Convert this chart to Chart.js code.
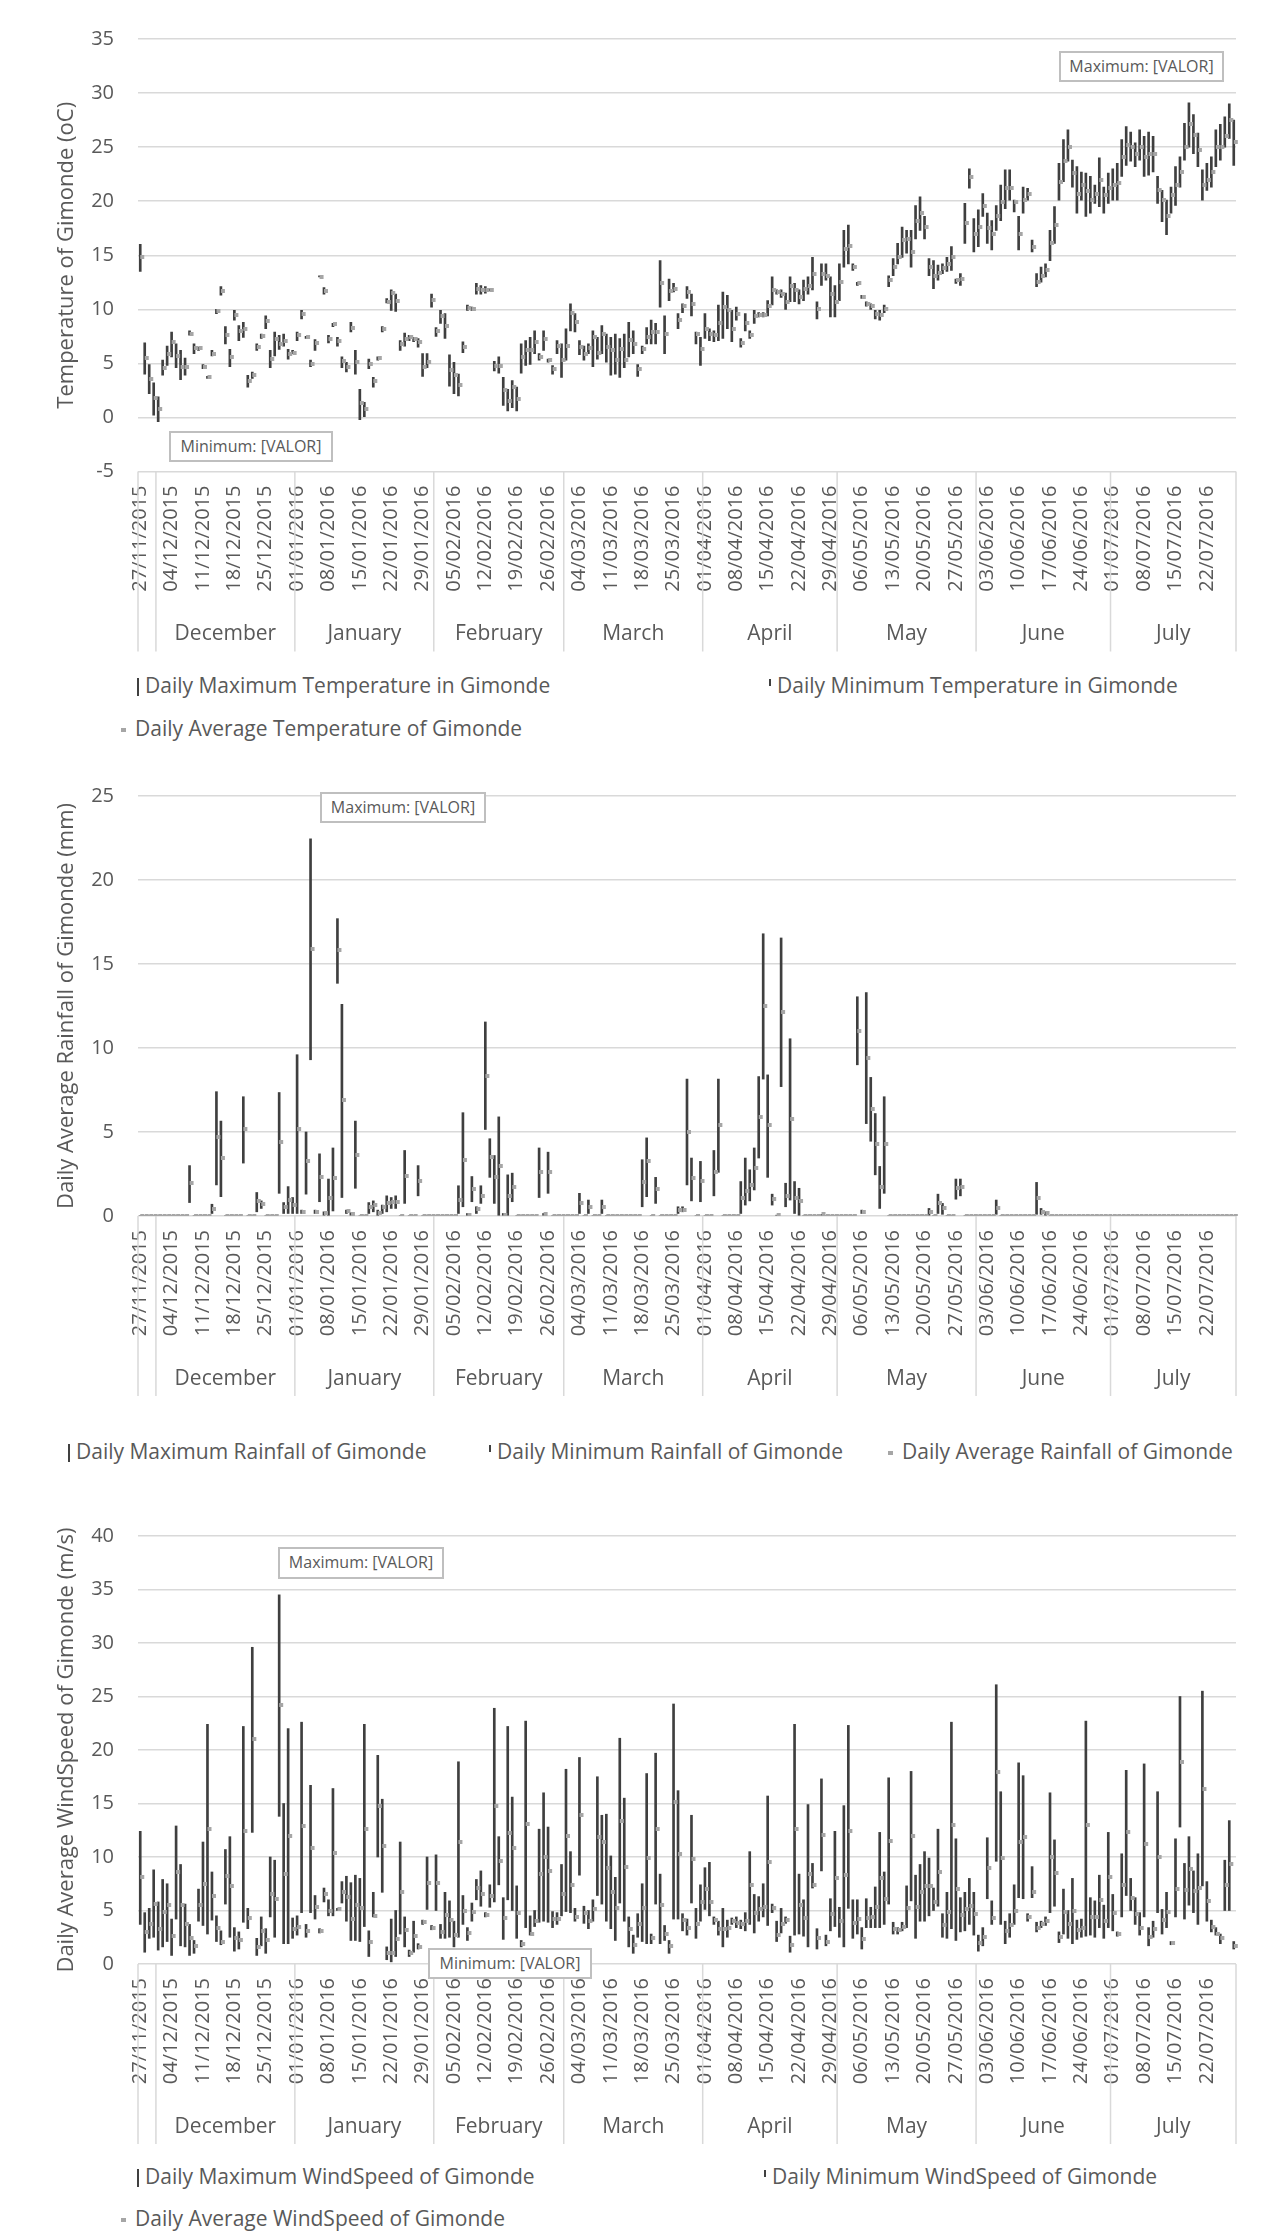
<!DOCTYPE html>
<html><head><meta charset="utf-8">
<script src="https://cdn.jsdelivr.net/npm/chart.js@4.4.1/dist/chart.umd.min.js"></script>
<style>
html,body{margin:0;padding:0;background:#fff;}
#page{position:relative;width:1282px;height:2233px;overflow:hidden;font-family:'Open Sans',sans-serif;color:#595959;}
canvas{position:absolute;left:0;}
.lg{position:absolute;font-size:21px;line-height:28px;white-space:nowrap;color:#595959;}
.mk{display:inline-block;vertical-align:middle;margin-right:6px;}
.mx{width:2px;height:18px;background:#404040;}
.mn{width:2px;height:7px;background:#404040;position:relative;top:-5px;}
.av{width:5px;height:4px;background:#a6a6a6;margin-right:9px;}
.box{position:absolute;border:2px solid #bfbfbf;background:#fff;font-size:16px;line-height:27px;text-align:center;color:#595959;box-sizing:border-box;white-space:nowrap;}
</style></head>
<body><div id="page">
<canvas id="c1" width="1282" height="660" style="top:0px"></canvas>
<canvas id="c2" width="1282" height="660" style="top:760px"></canvas>
<canvas id="c3" width="1282" height="650" style="top:1500px"></canvas>

<div class="lg" style="left:137px;top:671px"><span class="mk mx"></span>Daily Maximum Temperature in Gimonde</div>
<div class="lg" style="left:769px;top:671px"><span class="mk mn"></span>Daily Minimum Temperature in Gimonde</div>
<div class="lg" style="left:121px;top:714px"><span class="mk av"></span>Daily Average Temperature of Gimonde</div>

<div class="lg" style="left:68px;top:1437px"><span class="mk mx"></span>Daily Maximum Rainfall of Gimonde</div>
<div class="lg" style="left:489px;top:1437px"><span class="mk mn"></span>Daily Minimum Rainfall of Gimonde</div>
<div class="lg" style="left:888px;top:1437px"><span class="mk av"></span>Daily Average Rainfall of Gimonde</div>

<div class="lg" style="left:137px;top:2162px"><span class="mk mx"></span>Daily Maximum WindSpeed of Gimonde</div>
<div class="lg" style="left:764px;top:2162px"><span class="mk mn"></span>Daily Minimum WindSpeed of Gimonde</div>
<div class="lg" style="left:121px;top:2204px"><span class="mk av"></span>Daily Average WindSpeed of Gimonde</div>

<div class="box" style="left:169px;top:431px;width:164px;height:31px">Minimum: [VALOR]</div>
<div class="box" style="left:1059px;top:51px;width:165px;height:31px">Maximum: [VALOR]</div>
<div class="box" style="left:320px;top:792px;width:166px;height:31px">Maximum: [VALOR]</div>
<div class="box" style="left:278px;top:1547px;width:166px;height:32px">Maximum: [VALOR]</div>
<div class="box" style="left:428px;top:1948px;width:164px;height:31px">Minimum: [VALOR]</div>
</div>
<script>
const dates = [
'27/11/2015','28/11/2015','29/11/2015','30/11/2015',
'01/12/2015','02/12/2015','03/12/2015','04/12/2015','05/12/2015','06/12/2015','07/12/2015','08/12/2015','09/12/2015','10/12/2015','11/12/2015','12/12/2015','13/12/2015','14/12/2015','15/12/2015','16/12/2015','17/12/2015','18/12/2015','19/12/2015','20/12/2015','21/12/2015','22/12/2015','23/12/2015','24/12/2015','25/12/2015','26/12/2015','27/12/2015','28/12/2015','29/12/2015','30/12/2015','31/12/2015',
'01/01/2016','02/01/2016','03/01/2016','04/01/2016','05/01/2016','06/01/2016','07/01/2016','08/01/2016','09/01/2016','10/01/2016','11/01/2016','12/01/2016','13/01/2016','14/01/2016','15/01/2016','16/01/2016','17/01/2016','18/01/2016','19/01/2016','20/01/2016','21/01/2016','22/01/2016','23/01/2016','24/01/2016','25/01/2016','26/01/2016','27/01/2016','28/01/2016','29/01/2016','30/01/2016','31/01/2016',
'01/02/2016','02/02/2016','03/02/2016','04/02/2016','05/02/2016','06/02/2016','07/02/2016','08/02/2016','09/02/2016','10/02/2016','11/02/2016','12/02/2016','13/02/2016','14/02/2016','15/02/2016','16/02/2016','17/02/2016','18/02/2016','19/02/2016','20/02/2016','21/02/2016','22/02/2016','23/02/2016','24/02/2016','25/02/2016','26/02/2016','27/02/2016','28/02/2016','29/02/2016',
'01/03/2016','02/03/2016','03/03/2016','04/03/2016','05/03/2016','06/03/2016','07/03/2016','08/03/2016','09/03/2016','10/03/2016','11/03/2016','12/03/2016','13/03/2016','14/03/2016','15/03/2016','16/03/2016','17/03/2016','18/03/2016','19/03/2016','20/03/2016','21/03/2016','22/03/2016','23/03/2016','24/03/2016','25/03/2016','26/03/2016','27/03/2016','28/03/2016','29/03/2016','30/03/2016','31/03/2016',
'01/04/2016','02/04/2016','03/04/2016','04/04/2016','05/04/2016','06/04/2016','07/04/2016','08/04/2016','09/04/2016','10/04/2016','11/04/2016','12/04/2016','13/04/2016','14/04/2016','15/04/2016','16/04/2016','17/04/2016','18/04/2016','19/04/2016','20/04/2016','21/04/2016','22/04/2016','23/04/2016','24/04/2016','25/04/2016','26/04/2016','27/04/2016','28/04/2016','29/04/2016','30/04/2016',
'01/05/2016','02/05/2016','03/05/2016','04/05/2016','05/05/2016','06/05/2016','07/05/2016','08/05/2016','09/05/2016','10/05/2016','11/05/2016','12/05/2016','13/05/2016','14/05/2016','15/05/2016','16/05/2016','17/05/2016','18/05/2016','19/05/2016','20/05/2016','21/05/2016','22/05/2016','23/05/2016','24/05/2016','25/05/2016','26/05/2016','27/05/2016','28/05/2016','29/05/2016','30/05/2016','31/05/2016',
'01/06/2016','02/06/2016','03/06/2016','04/06/2016','05/06/2016','06/06/2016','07/06/2016','08/06/2016','09/06/2016','10/06/2016','11/06/2016','12/06/2016','13/06/2016','14/06/2016','15/06/2016','16/06/2016','17/06/2016','18/06/2016','19/06/2016','20/06/2016','21/06/2016','22/06/2016','23/06/2016','24/06/2016','25/06/2016','26/06/2016','27/06/2016','28/06/2016','29/06/2016','30/06/2016',
'01/07/2016','02/07/2016','03/07/2016','04/07/2016','05/07/2016','06/07/2016','07/07/2016','08/07/2016','09/07/2016','10/07/2016','11/07/2016','12/07/2016','13/07/2016','14/07/2016','15/07/2016','16/07/2016','17/07/2016','18/07/2016','19/07/2016','20/07/2016','21/07/2016','22/07/2016','23/07/2016','24/07/2016','25/07/2016','26/07/2016','27/07/2016','28/07/2016'
];
const monthNames = ['December','January','February','March','April','May','June','July'];
const monthStarts = [4,35,66,95,126,156,187,217];

const tempMax = [
16.0,6.9,4.9,3.2,1.9,5.3,6.6,7.9,6.8,6.2, 5.5,8.0,6.8,6.5,4.9,3.8,6.2,10.0,12.1,8.4, 6.3,9.9,8.5,8.8,3.9,4.2,6.8,7.7,9.4,6.2,
7.9,7.6,7.7,6.3,6.2,7.9,9.9,7.5,5.3,7.2, 13.1,12.0,7.6,8.7,7.4,5.6,5.1,8.8,6.2,2.6, 1.4,5.4,3.7,5.6,8.4,11.0,11.8,11.4,7.1,7.8,
7.6,7.4,7.3,5.9,5.9,11.4,8.3,9.9,9.6,5.8, 5.1,4.0,7.0,10.4,10.2,12.4,12.2,12.1,11.9,5.2, 5.6,3.7,2.6,3.4,2.8,
6.8,7.1,7.4,8.0,5.9,8.0,5.4,4.8,7.1,6.8, 8.2,10.5,9.6,7.1,6.6,6.8,8.0,7.4,8.5,7.7, 7.4,7.7,7.3,7.7,8.8,8.0,
4.9,6.6,8.3,9.0,8.7,14.5,9.4,12.8,12.4,9.6, 10.5,12.1,11.4,7.9,7.4,9.6,8.2,8.0,10.4,11.6, 11.3,9.9,10.2,7.3,9.6,8.0,9.9,9.7,9.7,10.8,
13.0,11.8,11.8,11.5,13.0,12.4,11.8,12.7,13.0,14.8, 10.7,14.2,14.2,13.0,12.2,14.2,17.3,17.8,14.2,12.5, 11.3,10.7,10.5,9.9,9.9,10.4,13.1,14.7,16.1,17.6,
17.3,17.3,19.6,20.4,18.6,14.7,14.5,14.1,14.2,14.8, 15.8,12.8,13.3,19.8,23.0,18.4,19.2,20.7,18.9,18.2, 19.6,21.5,22.9,22.9,20.1,18.6,21.3,21.2,16.4,13.3,
13.9,14.2,17.3,19.5,23.5,25.7,26.6,23.8,23.2,22.7, 22.6,22.3,21.5,24.0,21.3,22.6,23.0,23.5,25.7,26.9, 26.4,25.4,26.6,26.0,26.4,26.0,22.3,21.0,20.1,21.3,
23.2,24.1,27.2,29.1,28.0,26.3,22.9,23.5,24.1,26.6, 27.1,27.8,29.0,27.5
];
const tempMin = [
13.5,4.0,2.2,0.2,-0.4,3.9,4.8,5.6,4.6,3.5, 3.9,7.6,5.9,6.2,4.5,3.6,5.7,9.6,11.3,6.8, 4.7,9.0,7.1,7.4,2.8,3.6,6.2,7.3,8.2,4.6,
5.7,6.3,6.6,5.4,5.9,7.1,9.1,7.3,4.7,6.2, 13.0,11.4,6.9,8.4,6.6,4.6,4.2,7.9,4.0,-0.2, 0.0,4.5,2.8,5.3,7.9,10.6,9.9,9.8,6.2,6.6,
7.1,7.0,6.5,3.8,4.6,10.2,7.5,8.7,7.3,2.9, 2.2,2.0,6.0,9.9,9.9,11.4,11.4,11.5,11.7,4.3, 4.1,1.1,0.6,0.9,0.6,
4.1,4.8,4.9,5.9,5.3,6.2,5.1,4.0,5.9,3.7, 5.3,8.0,7.9,5.8,5.3,5.9,4.7,5.4,5.9,5.1, 3.9,4.0,3.7,4.6,5.6,5.9,
3.8,5.9,6.8,6.8,6.8,10.2,5.9,10.8,11.6,8.2, 9.7,11.0,9.4,6.8,4.8,7.3,7.1,7.0,7.1,7.3, 8.2,7.0,9.0,6.5,8.0,7.3,8.7,9.3,9.3,9.4,
10.4,11.4,11.1,10.0,10.7,10.7,10.5,10.8,11.4,11.8, 9.1,12.2,12.7,9.3,9.3,10.8,13.9,14.2,13.6,12.2, 11.0,10.3,10.0,9.1,9.0,9.7,12.1,13.1,14.2,14.8,
15.2,13.9,16.5,17.3,16.5,13.1,11.9,12.7,13.3,13.5, 13.6,12.4,12.2,16.1,21.2,15.3,15.8,18.6,16.1,15.5, 17.3,18.2,19.3,20.1,19.0,15.5,18.9,20.1,15.3,12.1,
12.5,13.0,14.5,16.1,20.1,21.8,23.7,21.3,18.9,20.1, 18.6,18.9,19.8,19.5,18.9,19.8,20.1,20.1,22.3,23.3, 23.7,23.2,23.8,22.3,22.4,22.7,19.8,18.1,16.9,18.9,
19.6,21.3,23.8,25.0,24.4,23.2,20.1,21.0,21.3,23.2, 23.8,25.0,25.8,23.3
];
const tempAvg = [
14.8,5.5,3.6,1.8,0.8,4.6,5.9,7.0,5.7,4.7, 4.7,7.7,6.4,6.4,4.7,3.7,5.9,9.8,11.7,7.6, 5.6,9.5,8.0,8.2,3.4,3.9,6.5,7.5,8.9,5.4,
7.3,6.8,7.1,5.9,6.0,7.6,9.6,7.4,4.9,6.9, 13.0,11.7,7.3,8.6,7.1,5.2,4.7,8.3,5.1,1.3, 0.8,4.9,3.4,5.5,8.2,10.7,11.5,10.8,6.8,7.3,
7.4,7.3,7.0,4.7,5.1,10.9,8.0,9.4,8.5,4.4, 3.9,3.0,6.5,10.1,10.0,11.9,11.8,11.8,11.8,4.8, 4.8,2.5,1.5,2.8,1.7,
5.6,6.2,6.2,7.0,5.6,7.3,5.3,4.5,6.6,5.3, 6.6,9.7,8.8,6.5,5.9,6.4,7.4,6.0,7.7,6.5, 6.2,5.3,6.3,5.3,7.2,6.8,
4.5,6.3,7.4,7.9,7.9,12.4,7.7,11.7,11.9,9.0, 10.3,11.6,10.5,7.7,6.3,8.2,7.7,7.6,8.7,10.2, 9.9,8.2,9.6,6.9,8.7,7.6,9.4,9.5,9.5,10.3,
11.8,11.6,11.4,10.7,12.2,11.8,11.1,11.9,12.2,13.3, 10.0,13.3,13.1,11.4,10.7,12.5,15.6,15.9,13.9,12.4, 11.1,10.5,10.3,9.6,9.5,10.0,12.7,13.9,14.8,16.4,
16.5,15.3,18.2,18.9,17.6,13.9,13.1,13.4,13.8,14.2, 14.8,12.7,12.8,18.0,22.2,17.0,17.6,19.6,17.5,17.0, 18.6,19.9,21.2,21.2,19.9,17.0,20.1,20.7,15.8,12.5,
13.1,13.6,16.1,17.8,21.8,23.7,25.0,22.6,20.7,21.5, 20.9,20.1,20.7,22.0,20.6,21.2,21.5,21.7,24.1,25.2, 25.0,24.4,25.0,24.1,24.4,24.4,21.0,20.1,18.6,20.6,
21.5,22.7,25.0,27.1,26.1,24.7,21.5,22.0,22.7,25.0, 25.0,26.0,27.5,25.5
];

const rainMax = [
0,0,0,0,0,0,0,0,0,0, 0,3.0,0,0,0,0,0.7,7.4,5.65,0, 0,0,0,7.1,0,0,1.4,0.9,0,0,
0,7.35,0.8,1.75,1.1,9.6,0.35,5.0,22.45,0.35, 3.7,0.25,2.2,4.05,17.7,12.6,0.35,0.2,5.65,0, 0,0.8,0.9,0.35,0.65,1.2,1.1,1.2,0,3.9,
0,0,3.0,0,0,0,0,0,0,0, 0,1.8,6.15,0.15,2.35,0.55,1.8,11.55,4.6,3.6, 5.9,0.15,2.45,2.55,0,0,0,0,0,4.05,
0.15,3.8,0,0,0,0,0,0,1.35,0, 0.95,0,0,0.95,0,0,0,0,0,0, 0,0,3.35,4.65,0,2.3,0,0,0,0,
0.55,0.55,8.15,3.45,0,3.25,0,0,3.9,8.15, 0,0,0,0,2.05,3.45,2.75,4.05,8.3,16.8, 8.4,1.3,0.05,16.55,1.95,10.55,2.05,1.65,0,0,
0,0,0.1,0,0,0,0,0,0,0, 13.05,0.35,13.3,8.25,6.1,2.95,7.1,0,0,0, 0,0,0,0,0,0,0.45,0,1.3,0.75,
0,0,2.2,2.2,0,0,0,0,0,0, 0,0.95,0,0,0,0,0,0,0,0, 2.0,0.45,0.25,0,0,0,0,0,0,0,
0,0,0,0,0,0,0,0,0,0, 0,0,0,0,0,0,0,0,0,0, 0,0,0,0,0,0,0,0,0,0,
0,0,0,0,0
];
const rainMin = [
0,0,0,0,0,0,0,0,0,0, 0,0.8,0,0,0,0,0.15,1.85,1.15,0, 0,0,0,3.15,0,0,0.25,0.45,0,0,
0,1.35,0.15,0.15,0.15,0.15,0.15,1.3,9.3,0.15, 0.85,0.05,0,0.3,13.85,1.1,0.15,0.05,1.65,0, 0,0.15,0.25,0,0.15,0.25,0.45,0.45,0,0.75,
0,0,1.2,0,0,0,0,0,0,0, 0,0.15,0.55,0,0.85,0.15,0.75,5.15,2.3,0.75, 0,0,0,0.85,0,0,0,0,0,1.1,
0,1.35,0,0,0,0,0,0,0.15,0, 0.15,0,0,0.15,0,0,0,0,0,0, 0,0,0.55,1.15,0,0.75,0,0,0,0,
0.15,0.25,1.85,0.9,0,0.85,0,0,1.2,2.6, 0,0,0,0,0.15,0.65,0.9,1.55,3.45,8.15, 2.3,0.65,0,7.7,0.55,0.95,0.15,0,0,0,
0,0,0,0,0,0,0,0,0,0, 9.0,0.15,5.5,4.45,2.45,0.45,1.35,0,0,0, 0,0,0,0,0,0,0.05,0,0.15,0.1,
0,0,1.0,1.2,0,0,0,0,0,0, 0,0.1,0,0,0,0,0,0,0,0, 0.1,0.1,0.05,0,0,0,0,0,0,0,
0,0,0,0,0,0,0,0,0,0, 0,0,0,0,0,0,0,0,0,0, 0,0,0,0,0,0,0,0,0,0,
0,0,0,0,0
];
const rainAvg = [
0,0,0,0,0,0,0,0,0,0, 0,1.95,0,0,0,0,0.4,4.7,3.45,0, 0,0,0,5.2,0,0,0.9,0.7,0,0,
0,4.4,0.55,0.95,0.65,5.2,0.25,3.25,15.9,0.25, 2.3,0.15,1.1,2.25,15.85,6.9,0.3,0.1,3.65,0, 0,0.55,0.65,0.2,0.55,0.75,0.85,0.85,0,2.4,
0,0,2.1,0,0,0,0,0,0,0, 0,0.95,3.35,0.05,1.6,0.4,1.2,8.35,3.5,2.3, 2.95,0.05,1.2,1.75,0,0,0,0,0,2.6,
0.1,2.6,0,0,0,0,0,0,0.75,0, 0.55,0,0,0.55,0,0,0,0,0,0, 0,0,2.0,3.25,0,1.6,0,0,0,0,
0.35,0.35,5.0,2.25,0,2.1,0,0,2.6,5.4, 0,0,0,0,1.1,1.5,1.85,2.85,5.9,12.5, 5.4,1.0,0.05,12.15,1.2,5.8,1.1,0.9,0,0,
0,0,0.1,0,0,0,0,0,0,0, 11.0,0.25,9.4,6.35,4.3,1.75,4.3,0,0,0, 0,0,0,0,0,0,0.25,0,0.75,0.5,
0,0,1.65,1.75,0,0,0,0,0,0, 0,0.5,0,0,0,0,0,0,0,0, 1.1,0.25,0.15,0,0,0,0,0,0,0,
0,0,0,0,0,0,0,0,0,0, 0,0,0,0,0,0,0,0,0,0, 0,0,0,0,0,0,0,0,0,0,
0,0,0,0,0
];

const windMax = [
12.4,4.8,5.2,8.8,5.8,7.9,7.5,4.2,12.9,9.3, 5.6,3.7,2.2,7.0,11.4,22.4,8.6,4.5,3.1,10.7, 11.9,3.4,3.0,22.2,5.2,29.6,2.4,4.4,3.3,10.0,
9.7,34.5,15.0,22.0,4.3,4.5,22.6,3.7,16.7,6.4, 3.3,7.1,6.0,16.4,5.2,7.7,8.2,7.6,8.3,8.0, 22.4,3.1,6.7,19.5,15.4,1.6,4.2,5.0,11.4,4.4,
1.3,4.0,1.9,4.1,10.0,3.6,10.2,3.7,6.7,5.9, 4.0,18.9,6.4,3.4,5.7,7.9,8.7,4.8,7.4,23.9, 11.9,6.2,22.2,15.6,7.3,2.2,22.7,4.5,5.0,12.6,
16.0,12.8,4.9,4.8,9.3,18.2,10.5,5.2,19.3,5.4, 5.0,6.0,17.5,13.9,14.0,10.1,8.1,21.1,15.5,4.4, 2.7,4.7,7.5,17.8,2.8,19.7,8.4,3.6,2.2,24.3,
16.2,4.7,4.2,13.9,5.2,7.4,9.0,9.5,4.4,4.0, 5.2,4.1,4.3,4.4,4.1,4.8,10.5,6.5,6.3,7.5, 15.7,5.6,4.0,5.2,4.4,2.6,22.4,8.4,6.0,14.9,
9.4,3.3,17.3,2.7,6.1,12.4,5.3,14.8,22.3,6.0, 6.0,3.4,6.1,5.3,7.2,12.3,8.6,17.4,3.9,3.4, 3.9,7.3,18.0,8.3,9.3,10.5,9.9,7.1,12.6,4.7,
6.7,22.6,11.7,6.2,6.7,8.0,6.7,2.7,3.4,11.8, 5.9,26.1,16.1,4.0,4.7,7.4,18.8,17.6,4.7,9.1, 3.9,4.0,4.4,16.0,11.6,3.0,7.0,5.0,8.0,4.1,
4.2,22.7,6.2,5.9,8.3,5.5,12.3,6.5,3.0,10.3, 18.1,8.0,6.2,4.8,18.7,3.4,4.0,16.1,5.1,6.7, 2.1,11.7,25.0,9.4,11.9,8.7,10.3,25.5,7.7,4.1,
3.4,2.8,9.7,13.4,2.1
];
const windMin = [
3.7,1.1,2.4,2.5,1.3,1.6,2.1,0.8,4.2,1.7, 1.6,0.8,1.0,4.0,3.6,2.8,4.1,2.1,1.8,5.6, 2.5,1.2,1.4,3.9,3.3,12.3,0.8,1.7,1.0,4.4,
2.5,13.8,1.9,1.9,2.4,2.7,4.8,2.5,4.8,4.2, 2.9,5.8,4.5,4.5,5.0,5.7,4.0,2.2,2.2,2.1, 3.5,0.7,4.4,10.0,6.7,0.4,0.2,0.7,2.8,1.6,
0.7,1.1,1.4,3.7,5.1,3.2,5.0,2.4,2.4,2.5, 1.6,2.5,3.7,2.2,4.0,6.0,5.4,4.4,5.3,5.8, 7.4,2.3,6.0,5.0,2.4,1.6,3.4,2.7,3.5,3.9,
4.0,3.9,3.4,3.7,4.5,4.9,4.8,4.0,8.3,3.8, 3.3,4.0,6.4,5.6,4.0,3.3,2.2,5.7,4.0,1.6, 1.0,2.5,2.1,1.9,1.9,5.6,1.9,2.2,1.0,4.2,
4.2,3.1,2.7,5.7,2.4,4.0,5.1,4.5,3.7,2.7, 1.6,2.5,3.7,3.4,3.3,3.1,3.7,2.9,4.0,4.4, 3.6,4.8,2.1,2.9,3.8,1.1,2.7,2.8,2.6,1.6,
7.1,1.4,8.7,1.7,3.1,3.5,2.5,1.6,5.2,2.4, 2.8,1.4,3.4,3.4,3.4,3.4,3.7,5.6,2.8,2.8, 3.1,3.4,5.9,2.4,4.0,4.0,4.5,5.0,5.4,2.5,
2.4,3.3,2.2,3.0,3.1,3.7,2.7,1.2,1.7,6.1, 3.7,9.6,3.7,1.9,2.5,3.7,6.2,6.1,4.0,6.2, 3.0,3.4,3.6,4.8,5.4,2.0,2.8,2.4,1.9,2.3,
2.5,2.6,2.7,2.5,3.4,2.4,3.4,3.1,2.6,4.4, 6.4,5.0,3.7,2.7,4.4,1.7,2.5,4.8,2.8,3.4, 1.8,4.4,12.8,4.2,5.5,4.8,3.7,7.3,4.0,3.0,
2.7,1.9,5.0,5.0,1.4
];
const windAvg = [
8.1,3.0,3.7,5.6,3.3,4.9,5.5,2.6,8.6,5.5, 3.7,2.4,1.7,5.5,7.5,12.6,6.4,3.4,2.1,8.2, 7.3,2.4,2.2,12.4,4.3,21.0,1.6,3.1,2.2,6.5,
6.1,24.2,8.4,12.0,3.3,3.5,12.9,3.1,10.8,5.3, 3.1,6.5,5.0,10.4,5.1,6.7,6.3,4.2,5.5,5.2, 12.6,2.1,4.5,14.8,11.0,1.0,1.0,2.3,6.7,3.2,
1.0,2.6,1.6,3.9,7.6,3.4,7.6,3.0,4.6,4.1, 2.7,11.4,5.0,2.9,4.9,7.1,6.5,4.6,6.4,14.8, 9.6,4.3,12.2,10.8,4.8,1.9,13.1,2.8,4.0,8.4,
10.0,8.7,4.2,4.2,6.5,12.0,7.4,4.4,13.9,4.8, 4.0,5.1,11.9,11.4,9.0,6.7,5.2,13.4,9.1,3.3, 1.8,3.7,5.2,9.9,2.4,12.6,5.5,2.8,1.7,15.1,
10.3,4.1,3.4,9.8,3.7,5.8,7.0,5.8,4.1,3.3, 3.3,3.4,4.0,3.8,3.7,4.0,7.4,4.8,5.1,5.3, 9.5,5.2,2.7,3.7,4.1,1.8,12.6,5.5,4.3,8.4,
7.4,2.4,12.1,2.1,4.7,8.0,4.0,8.3,12.4,3.8, 4.2,2.3,4.3,4.4,5.3,8.0,6.1,11.5,3.3,3.2, 3.5,5.2,12.0,5.3,6.7,7.3,7.3,5.8,8.6,3.6,
4.9,13.0,7.0,4.6,5.1,5.4,4.7,2.0,2.5,9.0, 4.3,17.9,9.9,3.1,3.6,5.0,11.4,11.9,4.4,6.7, 3.4,3.7,4.0,10.0,8.5,2.5,4.9,3.7,5.0,3.2,
3.4,13.0,4.4,4.4,6.0,4.0,8.1,4.8,2.8,7.4, 12.3,6.2,4.7,3.4,11.2,2.5,3.3,10.0,4.1,4.9, 2.0,7.0,18.9,6.9,8.9,6.8,7.1,16.4,5.9,3.5,
2.8,2.4,7.4,9.3,1.7
];

Chart.defaults.font.family = "'Open Sans', sans-serif";
Chart.defaults.color = '#595959';

// small gray average marker, drawn just to the right of the high-low line
const avgMarker = document.createElement('canvas');
avgMarker.width = 10; avgMarker.height = 4;
(function () { const g = avgMarker.getContext('2d'); g.fillStyle = '#a6a6a6'; g.fillRect(5, 0, 4, 4); })();

const monthPlugin = {
  id: 'monthRow',
  afterDraw(chart) {
    const x = chart.scales.x, a = chart.chartArea, ctx = chart.ctx;
    const half = (x.getPixelForValue(1) - x.getPixelForValue(0)) / 2;
    const edges = [a.left].concat(monthStarts.map(i => x.getPixelForValue(i) - half), [a.right]);
    ctx.save();
    ctx.strokeStyle = '#d9d9d9';
    ctx.lineWidth = 1.5;
    edges.forEach(px => {
      ctx.beginPath(); ctx.moveTo(px, a.bottom); ctx.lineTo(px, a.bottom + 180); ctx.stroke();
    });
    ctx.fillStyle = '#595959';
    ctx.font = "21px 'Open Sans', sans-serif";
    ctx.textAlign = 'center';
    ctx.textBaseline = 'middle';
    monthNames.forEach((m, k) => {
      const l = edges[k + 1], r = edges[k + 2];
      ctx.fillText(m, (l + r) / 2, a.bottom + 163);
    });
    ctx.restore();
  }
};

function makeChart(id, cfg) {
  const ranges = cfg.max.map((v, i) => [cfg.min[i], v]);
  return new Chart(document.getElementById(id), {
    type: 'bar',
    data: {
      labels: dates,
      datasets: [
        { type: 'line', label: cfg.avgLabel, data: cfg.avg, showLine: false, pointStyle: avgMarker,
          pointRadius: 3, pointHoverRadius: 3, order: 0 },
        { type: 'bar', label: cfg.maxLabel, data: ranges, backgroundColor: '#3f3f3f',
          barThickness: 2, borderSkipped: false, order: 1 }
      ]
    },
    options: {
      responsive: false,
      devicePixelRatio: 1,
      animation: false,
      layout: { padding: { left: 50, right: 46, top: cfg.padTop, bottom: 0 } },
      plugins: { legend: { display: false }, tooltip: { enabled: false } },
      scales: {
        x: {
          type: 'category', offset: true,
          grid: { display: false, drawTicks: false },
          border: { display: false },
          ticks: {
            autoSkip: false, minRotation: 90, maxRotation: 90, padding: 14,
            font: { size: 20 }, color: '#595959',
            callback(v, i) { return i % 7 === 0 ? this.getLabelForValue(v) : ''; }
          },
          afterFit(s) { s.height = cfg.xHeight; }
        },
        y: {
          min: cfg.yMin, max: cfg.yMax,
          ticks: { stepSize: 5, padding: 24, font: { size: 20 }, color: '#595959' },
          grid: { color: '#d9d9d9', lineWidth: 1.5, drawTicks: false },
          border: { display: false },
          title: { display: true, text: cfg.title, font: { size: 22 }, color: '#595959', padding: { top: 4, bottom: 0 } },
          afterFit(s) { s.width = 88; }
        }
      }
    },
    plugins: [monthPlugin]
  });
}

makeChart('c1', { max: tempMax, min: tempMin, avg: tempAvg, yMin: -5, yMax: 35, padTop: 39, xHeight: 188.5,
  title: 'Temperature of Gimonde (oC)', maxLabel: 'Daily Maximum Temperature in Gimonde', avgLabel: 'Daily Average Temperature of Gimonde' });
makeChart('c2', { max: rainMax, min: rainMin, avg: rainAvg, yMin: 0, yMax: 25, padTop: 24, xHeight: 204,
  title: 'Daily Average Rainfall of Gimonde (mm)', maxLabel: 'Daily Maximum Rainfall of Gimonde', avgLabel: 'Daily Average Rainfall of Gimonde' });
makeChart('c3', { max: windMax, min: windMin, avg: windAvg, yMin: 0, yMax: 40, padTop: 30, xHeight: 186,
  title: 'Daily Average WindSpeed of Gimonde (m/s)', maxLabel: 'Daily Maximum WindSpeed of Gimonde', avgLabel: 'Daily Average WindSpeed of Gimonde' });
</script>
</body></html>
